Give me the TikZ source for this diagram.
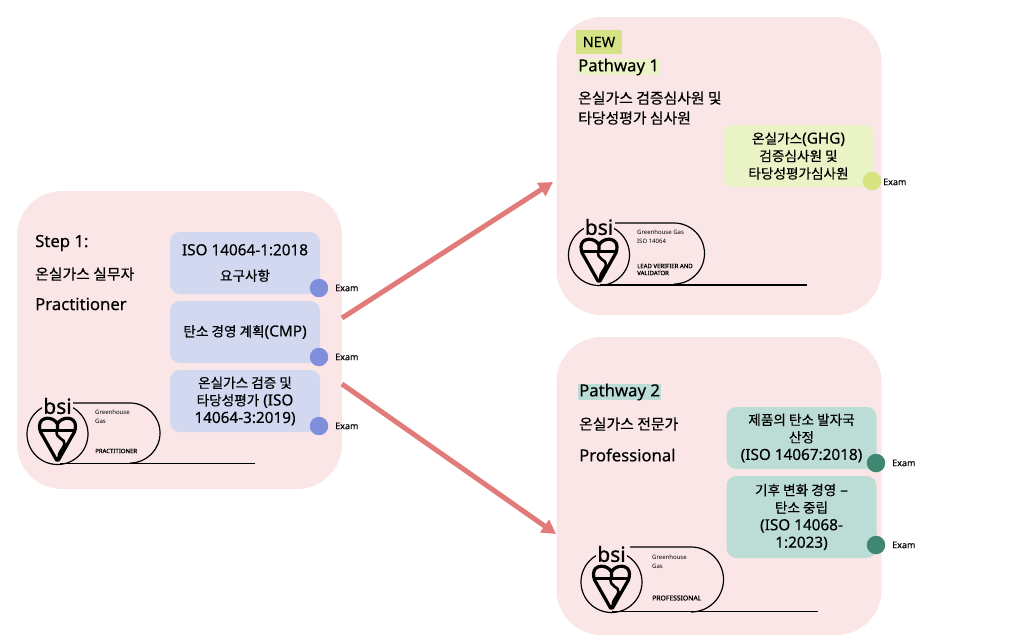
\documentclass[tikz,border=0pt]{standalone}
\usepackage{fontspec}
\setmainfont{Noto Sans}[FakeBold=0.25]
\newfontfamily\kofont{Noto Sans CJK KR}[Scale=0.89,FakeBold=0.35]
\newfontfamily\logofont{Noto Sans}
\newfontfamily\logobold{Noto Sans}[FakeBold=0.8]
\newcommand{\ko}[1]{{\kofont #1}}
\usetikzlibrary{arrows.meta}

\definecolor{panelpink}{HTML}{FAE6E6}
\definecolor{bluebox}{HTML}{D1D8EF}
\definecolor{bluedot}{HTML}{7F8FDC}
\definecolor{limebox}{HTML}{E9F3C6}
\definecolor{limedot}{HTML}{D7E47F}
\definecolor{tealbox}{HTML}{BCDDD5}
\definecolor{tealdot}{HTML}{3F8770}
\definecolor{newtag}{HTML}{D5E285}
\definecolor{arrowred}{HTML}{E07B7A}

\tikzset{
  panel/.style={fill=panelpink, rounded corners=45pt, minimum width=325pt, minimum height=298pt},
  course/.style={rounded corners=10pt, minimum width=150pt, align=center, font=\fontsize{15.3}{17.5}\selectfont, inner sep=0},
  dot/.style={circle, minimum size=18.5pt, inner sep=0},
  examtag/.style={font=\fontsize{9}{10}\selectfont, anchor=west, inner sep=0},
  head/.style={font=\fontsize{16.7}{20}\selectfont, anchor=west, align=left, inner sep=0},
  logotext/.style={font=\logofont\fontsize{6}{7}\selectfont, anchor=west, inner sep=0, text=black},
  logolabel/.style={font=\logobold\fontsize{6}{7}\selectfont, anchor=west, inner sep=0, text=black},
  pathway/.style={-{Triangle[length=14pt,width=15pt]}, line width=5pt, arrowred},
}

% one bsi mark: circle, heart and the word, centred on the circle
\newcommand{\bsimark}[2]{
  \begin{scope}[shift={(#1,#2)}]
    \draw[line width=1.2pt] (0,0) circle [radius=30.5];
    \node[fill=panelpink, inner sep=1pt, font=\logobold\fontsize{21}{21}\selectfont] at (0,-28) {bsi};
    \draw[line width=3.2pt, line join=round] (0,-10) .. controls (-4,-18) and (-18,-18) .. (-18,-8) .. controls (-18,-3) and (-16,0) .. (-14,3) -- (-1,26) -- (1,26) -- (14,3) .. controls (16,0) and (18,-3) .. (18,-8) .. controls (18,-18) and (4,-18) .. (0,-10) -- (0,-4);
    \draw[line width=3pt] (-17,-4) -- (17,-4);
    \draw[line width=2.6pt] (-1,-4) .. controls (-2,6) and (8,4) .. (7,10) .. controls (6,15) and (1,17) .. (1,24);
  \end{scope}
}

\begin{document}
\begin{tikzpicture}[x=1pt, y=-1pt]

\useasboundingbox (0,0) rectangle (1030,643);

\node[panel] (step) at (179.5,340) {};
\node[panel] (pathone) at (719,166) {};
\node[panel] (pathtwo) at (719,486) {};

\coordinate (stepup) at (342,318);
\coordinate (steplow) at (342,384);
\coordinate (oneend) at (553,182);
\coordinate (twoend) at (556,534);
\draw[pathway] (stepup) to (oneend);
\draw[pathway] (steplow) to (twoend);

% left panel
\node[head] (steptitle) at (35,243) {Step 1:};
\node[head] (stepname) at (35,274) {\ko{온실가스 실무자}};
\node[head] (steprole) at (35,304) {Practitioner};

\node[course, fill=bluebox, minimum height=62pt] (stepa) at (245,263) {ISO 14064-1:2018\\[8pt]\ko{요구사항}};
\node[course, fill=bluebox, minimum height=62pt] (stepb) at (245,332) {\ko{탄소 경영 계획}(CMP)};
\node[course, fill=bluebox, minimum height=62pt] (stepc) at (245,401) {\ko{온실가스 검증 및}\\\ko{타당성평가} (ISO\\14064-3:2019)};
\node[dot, fill=bluedot] (dota) at (319,288) {};
\node[dot, fill=bluedot] (dotb) at (319,357) {};
\node[dot, fill=bluedot] (dotc) at (319,426) {};
\node[examtag] (exama) at (335,288) {Exam};
\node[examtag] (examb) at (335,357) {Exam};
\node[examtag] (examc) at (335,426) {Exam};

\bsimark{57.5}{434}
\draw[line width=1.2pt] (73,403) -- (130,403) arc (-90:90:30);
\draw[line width=1.4pt] (60,463.5) -- (255,463.5);
\node[logotext] (stepg) at (95,412) {Greenhouse};
\node[logotext] (stepgg) at (95,421) {Gas};
\node[logolabel] (stepl) at (95,451) {PRACTITIONER};

% pathway 1
\node[fill=newtag, minimum width=46pt, minimum height=24pt, inner sep=0, font=\fontsize{14.4}{15}\selectfont] (newtag) at (599,42) {NEW};
\node[head, fill=limebox, inner xsep=1pt, inner ysep=0pt] (onetitle) at (577,67) {Pathway 1};
\node[head] (onename) at (578,108) {\ko{온실가스 검증심사원 및}\\\ko{타당성평가 심사원}};
\node[course, fill=limebox, minimum height=62pt] (onebox) at (798.5,156) {\ko{온실가스}(GHG)\\\ko{검증심사원 및}\\\ko{타당성평가심사원}};
\node[dot, fill=limedot] (onedot) at (872,181) {};
\node[examtag] (oneexam) at (883,182) {Exam};

\bsimark{599}{255}
\draw[line width=1.2pt] (615,223) -- (674,223) arc (-90:90:30.5);
\draw[line width=1.4pt] (600,285) -- (807,285);
\node[logotext] (oneg) at (637,232) {Greenhouse Gas};
\node[logotext] (oneiso) at (637,241) {ISO 14064};
\node[logolabel] (onel) at (637,266) {LEAD VERIFIER AND};
\node[logolabel] (onell) at (637,273) {VALIDATOR};

% pathway 2
\node[head, fill=tealbox, inner xsep=1pt, inner ysep=0pt] (twotitle) at (578,392) {Pathway 2};
\node[head] (twoname) at (579,424) {\ko{온실가스 전문가}};
\node[head] (tworole) at (579,455) {Professional};
\node[course, fill=tealbox, minimum height=62pt] (twoa) at (801.5,438) {\ko{제품의 탄소 발자국}\\\ko{산정}\\(ISO 14067:2018)};
\node[course, fill=tealbox, minimum height=82pt] (twob) at (801.5,517) {\ko{기후 변화 경영} –\\\ko{탄소 중립}\\(ISO 14068-\\1:2023)};
\node[dot, fill=tealdot] (twodota) at (876,463) {};
\node[dot, fill=tealdot] (twodotb) at (876,545) {};
\node[examtag] (twoexama) at (892,463) {Exam};
\node[examtag] (twoexamb) at (892,545) {Exam};

\bsimark{611.5}{582}
\draw[line width=1.2pt] (630,547) -- (691,547) arc (-90:90:32.5);
\draw[line width=1.4pt] (612,611.5) -- (818,611.5);
\node[logotext] (twog) at (652,557) {Greenhouse};
\node[logotext] (twogg) at (652,566) {Gas};
\node[logolabel, font=\logobold\fontsize{6.8}{8}\selectfont] (twol) at (652,598) {PROFESSIONAL};

\end{tikzpicture}
\end{document}
